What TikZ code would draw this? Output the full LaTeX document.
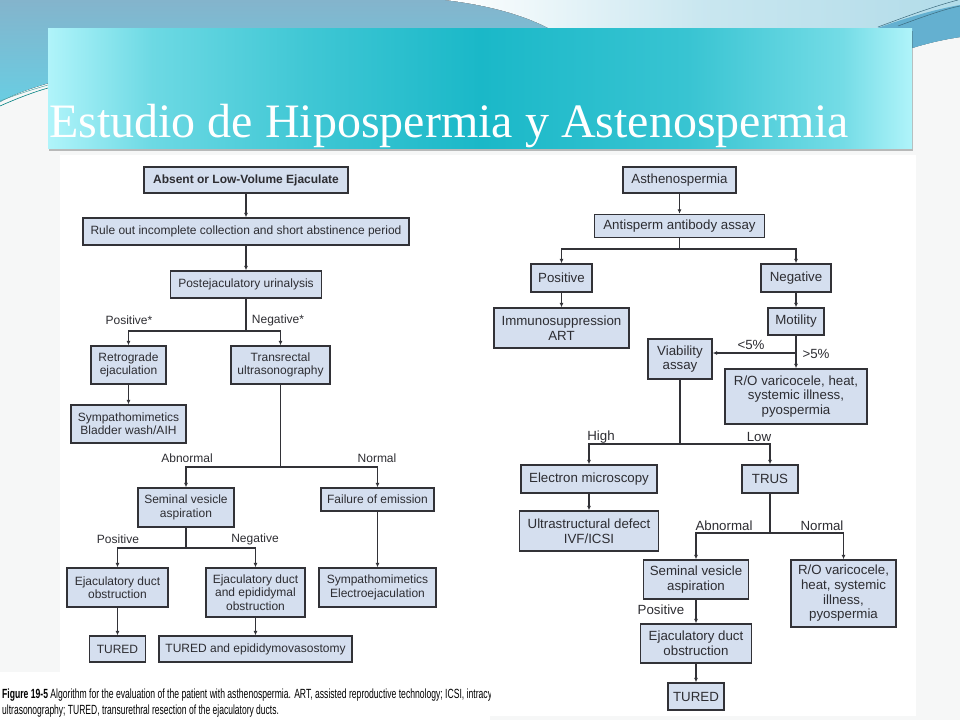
\documentclass[tikz,border=0pt]{standalone}
\usepackage{fontspec}
\setmainfont{Liberation Serif}
\setsansfont{Liberation Sans}
\usetikzlibrary{arrows.meta,shadows}

\definecolor{boxfill}{RGB}{213,223,239}
\definecolor{boxline}{RGB}{50,50,55}
\definecolor{txt}{RGB}{45,45,50}
\definecolor{bandtop}{RGB}{132,180,204}
\definecolor{bandlow}{RGB}{105,205,226}
\definecolor{bandlight}{RGB}{178,220,233}
\definecolor{swoosh}{RGB}{100,176,208}
\definecolor{titlemid}{RGB}{26,184,200}
\definecolor{titleedge}{RGB}{176,244,250}
\definecolor{slidebg}{RGB}{246,247,247}

\pgfdeclarehorizontalshading{titleshade}{100bp}{
  color(0bp)=(titleedge); color(25bp)=(titleedge);
  color(31bp)=(titlemid!45!titleedge); color(40bp)=(titlemid!75!titleedge);
  color(50bp)=(titlemid); color(62bp)=(titlemid!80!titleedge);
  color(71bp)=(titlemid!40!titleedge); color(75bp)=(titleedge);
  color(100bp)=(titleedge)}

\newcommand{\chartfont}{\sffamily\fontsize{12}{13.3}\selectfont}
\newcommand{\rchartfont}{\sffamily\fontsize{13.3}{14.7}\selectfont}

\begin{document}
\begin{tikzpicture}[x=1pt,y=-1pt,
  box/.style={draw=boxline, fill=boxfill, line width=1.4pt, font=\chartfont, text=txt, align=center, inner sep=0pt},
  big/.style={font=\rchartfont},
  lbl/.style={font=\chartfont, text=txt, inner sep=0pt},
  link/.style={draw=boxline, line width=1.3pt},
  arr/.style={-{Latex[length=4.5pt,width=4pt]}}]
  \useasboundingbox (0,0) rectangle (960,720);

  % Slide background
  \fill[slidebg] (0,0) rectangle (960,720);
  \fill[top color=bandtop, bottom color=bandlow] (0,0) -- (960,0) -- (960,37)
    .. controls (940,40) and (925,44) .. (912,48) -- (60,80)
    .. controls (30,88) and (12,95) .. (0,102) -- cycle;
  \fill[left color=white, right color=bandlight, middle color=bandlight!70!white]
    (445,0) .. controls (495,6) and (528,17) .. (552,30) -- (960,30) -- (960,0) -- cycle;
  \fill[swoosh] (872,30) .. controls (902,19) and (932,10) .. (960,5) -- (960,37)
    .. controls (940,40) and (925,44) .. (912,48) -- (912,30) -- cycle;
  \draw[swoosh!60!black, line width=0.5pt] (878,27) .. controls (910,15) and (935,6) .. (958,0);
  \draw[swoosh!60!black, line width=0.5pt] (898,26) .. controls (925,16) and (945,9) .. (960,6);
  \draw[teal, line width=0.6pt] (0,106) .. controls (18,98) and (34,92) .. (48,88);
  \draw[teal!70, line width=0.5pt] (0,101) .. controls (18,94) and (34,89) .. (48,85);

  % Figure areas
  \fill[white] (60,155) rectangle (490,672);
  \fill[white] (0,672) rectangle (490,720);
  \fill[white] (490,155) rectangle (916,716);

  % Title bar
  \node[minimum width=864, minimum height=120, inner sep=0pt, shading=titleshade,
    drop shadow={shadow xshift=0.5pt, shadow yshift=-3pt, fill=black, opacity=0.25}]
    (titlebar) at (480,88) {};
  \node[anchor=base west, inner sep=0pt, text=white, font=\fontsize{48}{50}\selectfont]
    (titletext) at (49,137) {Estudio de Hipospermia y Astenospermia};

  % Left chart: low-volume ejaculate
  \node[box, font=\chartfont\bfseries, minimum width=204, minimum height=26] (absent) at (246,180) {Absent or Low-Volume Ejaculate};
  \node[box, minimum width=326, minimum height=27] (ruleout) at (246,231.5) {Rule out incomplete collection and short abstinence period};
  \node[box, minimum width=151, minimum height=27] (urin) at (246,284.5) {Postejaculatory urinalysis};
  \node[box, minimum width=75, minimum height=38] (retro) at (128.5,365) {Retrograde\\ejaculation};
  \node[box, minimum width=99, minimum height=38] (trans) at (280.5,365) {Transrectal\\ultrasonography};
  \node[box, minimum width=115, minimum height=38] (symp1) at (128.5,424) {Sympathomimetics\\Bladder wash/AIH};
  \node[box, minimum width=96, minimum height=39] (sva1) at (186,507.5) {Seminal vesicle\\aspiration};
  \node[box, minimum width=113, minimum height=23] (foe) at (377.5,499.5) {Failure of emission};
  \node[box, minimum width=101, minimum height=39] (edo1) at (117.5,587.5) {Ejaculatory duct\\obstruction};
  \node[box, minimum width=99, minimum height=49] (edeo) at (255.5,592.5) {Ejaculatory duct\\and epididymal\\obstruction};
  \node[box, minimum width=117, minimum height=39] (symp2) at (377.5,587.5) {Sympathomimetics\\Electroejaculation};
  \node[box, minimum width=56, minimum height=26] (tured1) at (117.5,649) {TURED};
  \node[box, minimum width=193, minimum height=26] (tured2) at (255.5,649) {TURED and epididymovasostomy};

  \coordinate (j1) at (246,331);
  \coordinate (j2) at (280.5,467);
  \coordinate (j3) at (186,548);
  \draw[link, arr] (absent) -- (ruleout);
  \draw[link, arr] (ruleout) -- (urin);
  \draw[link] (urin) -- (j1);
  \draw[link, arr] (j1) -| (retro);
  \draw[link, arr] (j1) -| (trans);
  \draw[link, arr] (retro) -- (symp1);
  \draw[link] (trans) -- (j2);
  \draw[link, arr] (j2) -| (sva1);
  \draw[link, arr] (j2) -| (foe);
  \draw[link, arr] (foe) -- (symp2);
  \draw[link] (sva1) -- (j3);
  \draw[link, arr] (j3) -| (edo1);
  \draw[link, arr] (j3) -| (edeo);
  \draw[link, arr] (edo1) -- (tured1);
  \draw[link, arr] (edeo) -- (tured2);

  \node[lbl] (lpos) at (129,320) {Positive*};
  \node[lbl] (lneg) at (278,320) {Negative*};
  \node[lbl] (labn) at (187,458) {Abnormal};
  \node[lbl] (lnorm) at (377,458) {Normal};
  \node[lbl] (lpos2) at (118,539) {Positive};
  \node[lbl] (lneg2) at (255,539) {Negative};

  % Right chart: asthenospermia
  \node[box, big, minimum width=113, minimum height=26] (astheno) at (679.5,180) {Asthenospermia};
  \node[box, big, minimum width=170, minimum height=23] (antisperm) at (679.5,226) {Antisperm antibody assay};
  \node[box, big, minimum width=61, minimum height=28] (pos) at (561.5,278) {Positive};
  \node[box, big, minimum width=70, minimum height=28] (neg) at (796,278) {Negative};
  \node[box, big, minimum width=135, minimum height=40] (immuno) at (561.5,328) {Immunosuppression\\ART};
  \node[box, big, minimum width=56, minimum height=27] (motil) at (796,321.5) {Motility};
  \node[box, big, minimum width=64, minimum height=40] (viab) at (680,359) {Viability\\assay};
  \node[box, big, minimum width=142, minimum height=55] (rovar1) at (796,396.5) {R/O varicocele, heat,\\systemic illness,\\pyospermia};
  \node[box, big, minimum width=136, minimum height=28] (electron) at (589,479) {Electron microscopy};
  \node[box, big, minimum width=56, minimum height=28] (trus) at (770,479) {TRUS};
  \node[box, big, minimum width=139, minimum height=40] (ultra) at (589,531) {Ultrastructural defect\\IVF/ICSI};
  \node[box, big, minimum width=105, minimum height=39] (sva2) at (696,579.5) {Seminal vesicle\\aspiration};
  \node[box, big, minimum width=105, minimum height=67] (rovar2) at (843.5,593.5) {R/O varicocele,\\heat, systemic\\illness,\\pyospermia};
  \node[box, big, minimum width=111, minimum height=39] (edo2) at (696,643.5) {Ejaculatory duct\\obstruction};
  \node[box, big, minimum width=56, minimum height=27] (tured3) at (696,696.5) {TURED};

  \coordinate (k1) at (679.5,249);
  \coordinate (k2) at (796,353);
  \coordinate (k3) at (680,444);
  \coordinate (k4) at (770,533);
  \draw[link, arr] (astheno) -- (antisperm);
  \draw[link] (antisperm) -- (k1);
  \draw[link, arr] (k1) -| (pos);
  \draw[link, arr] (k1) -| (neg);
  \draw[link, arr] (pos) -- (immuno);
  \draw[link, arr] (neg) -- (motil);
  \draw[link] (motil) -- (k2);
  \draw[link, arr] (k2) -- (viab.east |- k2);
  \draw[link, arr] (k2) -- (rovar1);
  \draw[link] (viab) -- (k3);
  \draw[link, arr] (k3) -| (electron);
  \draw[link, arr] (k3) -| (trus);
  \draw[link, arr] (electron) -- (ultra);
  \draw[link] (trus) -- (k4);
  \draw[link, arr] (k4) -| (sva2);
  \draw[link, arr] (k4) -| (rovar2);
  \draw[link, arr] (sva2) -- (edo2);
  \draw[link, arr] (edo2) -- (tured3);

  \node[lbl, big] (rlt) at (751,345) {<5\%};
  \node[lbl, big] (rgt) at (816,354) {>5\%};
  \node[lbl, big] (rhigh) at (601,437) {High};
  \node[lbl, big] (rlow) at (759,437) {Low};
  \node[lbl, big] (rabn) at (724,526) {Abnormal};
  \node[lbl, big] (rnorm) at (822,526) {Normal};
  \node[lbl, big] (rpos) at (661,610) {Positive};

  % Caption
  \begin{scope}
    \clip (0,675) rectangle (490,720);
    \node[anchor=base west, inner sep=0pt, text=black] (cap1) at (2,698)
      {\scalebox{0.647}[1]{\sffamily\fontsize{13.3}{15}\selectfont\textbf{Figure 19-5} Algorithm for the evaluation of the patient with asthenospermia. ART, assisted reproductive technology; ICSI, intracy}};
    \node[anchor=base west, inner sep=0pt, text=black] (cap2) at (2,714)
      {\scalebox{0.64}[1]{\sffamily\fontsize{13.3}{15}\selectfont ultrasonography; TURED, transurethral resection of the ejaculatory ducts.}};
  \end{scope}
\end{tikzpicture}
\end{document}
